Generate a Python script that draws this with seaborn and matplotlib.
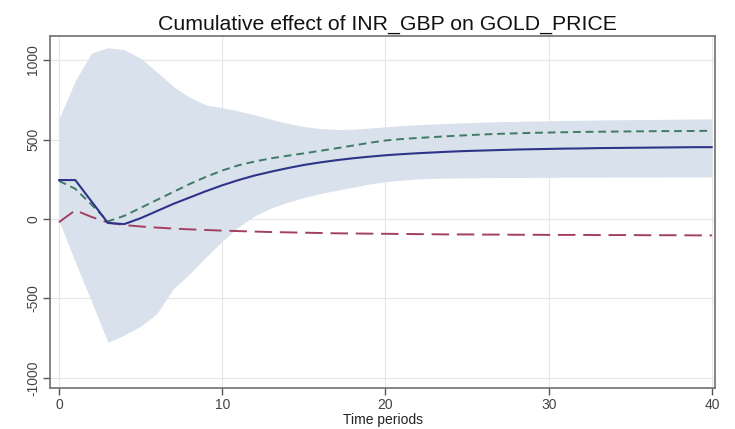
import numpy as np
import pandas as pd
import matplotlib
matplotlib.use("Agg")
import matplotlib.pyplot as plt
import seaborn as sns

periods = list(range(41))
cirf = [245, 245, 110, -25, -32, 5, 50, 95, 135, 175, 212, 245, 274, 298, 320, 340, 356, 370,
        382, 392, 401, 408, 414, 419, 424, 428, 431, 434, 437, 439, 441, 443, 444, 446, 447,
        448, 449, 450, 451, 452, 452]
alt_green = [240, 190, 90, -15, 20, 70, 120, 170, 220, 265, 305, 338, 362, 382, 398, 413, 429,
             445, 462, 479, 494, 503, 510, 516, 522, 527, 532, 536, 539, 542, 544, 546, 548,
             549, 550, 551, 552, 553, 553, 554, 555]
alt_red = [-20, 55, 13, -22, -38, -47, -54, -60, -65, -69, -73, -76, -79, -82, -84, -86, -88,
           -90, -91, -92, -93, -94, -95, -96, -97, -97, -98, -98, -99, -99, -100, -100, -100,
           -101, -101, -101, -102, -102, -102, -103, -103]
ci_upper = [630, 870, 1045, 1078, 1065, 1012, 925, 835, 765, 718, 700, 680, 655, 627, 602, 582,
            569, 563, 565, 572, 580, 587, 593, 598, 602, 606, 609, 612, 614, 616, 618, 620, 621,
            623, 624, 625, 626, 627, 628, 629, 630]
ci_lower = [-10, -270, -520, -775, -730, -675, -595, -440, -345, -240, -140, -50, 20, 70, 105,
            135, 160, 180, 200, 220, 235, 245, 252, 256, 258, 259, 260, 261, 261, 262, 262, 263,
            263, 263, 264, 264, 264, 264, 265, 265, 265]

x_ticks = [0, 10, 20, 30, 40]
y_ticks = [-1000, -500, 0, 500, 1000]
title = "Cumulative effect of INR_GBP on GOLD_PRICE"
xlabel = "Time periods"

df = pd.DataFrame({"t": periods, "cirf": cirf, "green": alt_green, "red": alt_red,
                   "lo": ci_lower, "hi": ci_upper})

sns.set_theme(style="whitegrid")
plt.rcParams["font.family"] = ["Liberation Sans", "DejaVu Sans"]

fig = plt.figure(figsize=(7.35, 4.29), dpi=100)
ax = fig.add_axes([0.068, 0.0956, 0.905, 0.82])

ax.fill_between(df["t"], df["lo"], df["hi"], color="#d9e1ec", linewidth=0, zorder=1)
sns.lineplot(data=df, x="t", y="red", ax=ax, color="#a3405f", linewidth=1.4, zorder=3)
ax.lines[-1].set_dashes((9, 4))
sns.lineplot(data=df, x="t", y="green", ax=ax, color="#3f7a64", linewidth=1.4, zorder=4)
ax.lines[-1].set_dashes((4, 2.5))
sns.lineplot(data=df, x="t", y="cirf", ax=ax, color="#2e3488", linewidth=1.5, zorder=5)

ax.set_xlim(-0.55, 40.2)
ax.set_ylim(-1063, 1150)
ax.set_xticks(x_ticks)
ax.set_yticks(y_ticks)
ax.set_xticklabels([str(v) for v in x_ticks], fontsize=10, color="#444444")
ax.set_yticklabels([str(v) for v in y_ticks], fontsize=10, color="#444444",
                   rotation=90, va="center")
ax.set_xlabel(xlabel, fontsize=10, color="#222222", labelpad=1)
ax.set_ylabel("")
ax.set_title(title, fontsize=15.3, color="#111111", pad=5, x=0.507)

ax.grid(True, color="#e6e6e6", linewidth=0.8)
ax.set_axisbelow(True)
for side, sp in ax.spines.items():
    sp.set_visible(True)
    sp.set_color("#6f6f6f")
    sp.set_linewidth(1.2)
ax.tick_params(axis="both", which="major", direction="out", length=5, width=1,
               color="#555555", pad=2, bottom=True, left=True)
fig.patch.set_facecolor("white")
ax.set_facecolor("white")

fig.savefig("out.png", dpi=100)
